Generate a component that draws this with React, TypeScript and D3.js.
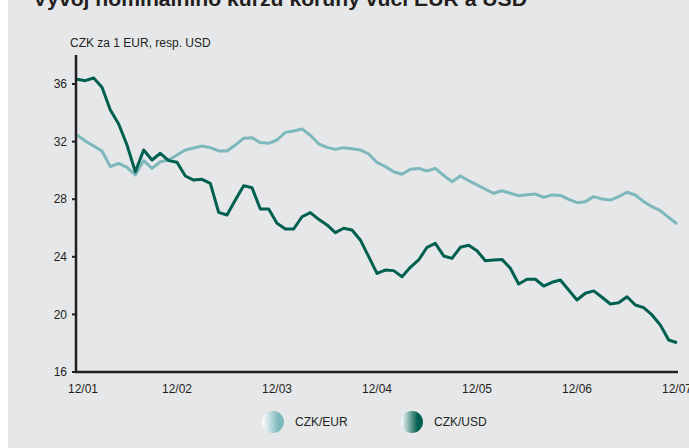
import * as d3 from "d3";

// monthly observations, 12/01 .. 12/07
const EUR = [
  32.46, 32.04, 31.69, 31.35, 30.26, 30.49, 30.21, 29.68, 30.68, 30.14, 30.6, 30.72,
  31.07, 31.42, 31.55, 31.69, 31.58, 31.35, 31.35, 31.76, 32.23, 32.27, 31.93, 31.88,
  32.11, 32.64, 32.74, 32.88, 32.44, 31.85, 31.6, 31.46, 31.58, 31.51, 31.42, 31.14,
  30.56, 30.26, 29.91, 29.73, 30.08, 30.14, 29.96, 30.14, 29.65, 29.22, 29.61, 29.29,
  28.99, 28.69, 28.41, 28.59, 28.41, 28.24, 28.31, 28.36, 28.13, 28.3, 28.26, 27.99,
  27.76, 27.83, 28.18, 28.01, 27.94, 28.18, 28.48, 28.29, 27.83, 27.48, 27.2, 26.74,
  26.28,
];
const USD = [
  36.33, 36.23, 36.42, 35.77, 34.19, 33.22, 31.76, 29.91, 31.42, 30.72, 31.19, 30.68,
  30.56, 29.61, 29.33, 29.38, 29.1, 27.09, 26.9, 27.94, 28.94, 28.8, 27.32, 27.32,
  26.33, 25.93, 25.93, 26.78, 27.07, 26.6, 26.21, 25.68, 25.98, 25.86, 25.17, 24.01,
  22.85, 23.08, 23.04, 22.62, 23.27, 23.78, 24.66, 24.93, 24.06, 23.89, 24.66, 24.8,
  24.42, 23.73, 23.78, 23.82, 23.2, 22.11, 22.44, 22.44, 21.97, 22.23, 22.39, 21.69,
  21.0, 21.47, 21.63, 21.19, 20.72, 20.81, 21.23, 20.65, 20.47, 19.96, 19.26, 18.22,
  18.03,
];
const X_LABELS = ["12/01", "12/02", "12/03", "12/04", "12/05", "12/06", "12/07"];
const Y_TICKS = [16, 20, 24, 28, 32, 36];
const SERIES = [
  { name: "CZK/EUR", values: EUR, color: "#7db8bd" },
  { name: "CZK/USD", values: USD, color: "#00604f" },
];

const W = 689, H = 448;
const FONT = "'Liberation Sans', Arial, sans-serif";

export default function App() {
  const x = d3.scaleLinear().domain([0, 72]).range([77, 677]);
  const y = d3.scaleLinear().domain([16, 36]).range([372, 84]);
  const line = d3.line<number>()
    .x((_, i) => x(i))
    .y((d) => y(d));

  return (
    <svg width={W} height={H} style={{ position: "absolute", left: 0, top: 0 }} fontFamily={FONT}>
      <defs>
        {SERIES.map((s, i) => (
          <linearGradient key={s.name} id={`lg${i}`} x1="0" x2="1" y1="0" y2="0">
            <stop offset="0" stopColor="#ffffff" />
            <stop offset="0.75" stopColor={s.color} />
            <stop offset="1" stopColor={s.color} />
          </linearGradient>
        ))}
      </defs>
      <rect x={0} y={0} width={W} height={H} fill="#ffffff" />
      <rect x={8} y={0} width={W - 8} height={H} fill="#e6e7e9" />

      {/* title, mostly cropped off the top */}
      <text x={33} y={6} fontSize={21} fontWeight="bold" fill="#231f20" textLength={494}
        lengthAdjust="spacingAndGlyphs">
        Vývoj nominálního kurzu koruny vůči EUR a USD
      </text>

      <text x={70} y={47} fontSize={12} fill="#231f20">CZK za 1 EUR, resp. USD</text>

      {/* y ticks */}
      {Y_TICKS.map((t) => (
        <g key={t}>
          <line x1={72} x2={77} y1={y(t)} y2={y(t)} stroke="#231f20" strokeWidth={2} />
          <text x={67} y={y(t)} dy="0.35em" textAnchor="end" fontSize={12} fill="#231f20">{t}</text>
        </g>
      ))}

      {/* x labels */}
      {X_LABELS.map((l, i) => (
        <text key={l} x={x(i * 12) + (i === 0 ? 6 : 0)} y={393} textAnchor="middle"
          fontSize={12} fill="#231f20">{l}</text>
      ))}

      {SERIES.map((s) => (
        <path key={s.name} d={line(s.values) ?? ""} fill="none" stroke={s.color} strokeWidth={3}
          strokeLinejoin="round" />
      ))}

      {/* axes */}
      <line x1={76} x2={76} y1={55} y2={373} stroke="#231f20" strokeWidth={2.5} />
      <line x1={75} x2={678} y1={372} y2={372} stroke="#231f20" strokeWidth={2.5} />

      {/* legend */}
      {SERIES.map((s, i) => (
        <g key={s.name} transform={`translate(${273 + i * 139},422)`}>
          <ellipse cx={0} cy={0} rx={11} ry={11} fill={`url(#lg${i})`} />
          <text x={22} y={0} dy="0.35em" fontSize={12} fill="#231f20">{s.name}</text>
        </g>
      ))}
    </svg>
  );
}
